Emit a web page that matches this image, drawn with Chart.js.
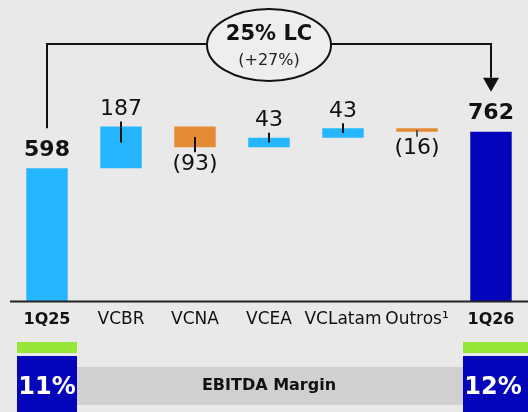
<!DOCTYPE html>
<html>
<head>
<meta charset="utf-8">
<script src="https://cdn.jsdelivr.net/npm/chart.js@4/dist/chart.umd.min.js"></script>
<style>
  html, body { margin: 0; padding: 0; background: #e9e9e9; }
  #wrap { width: 528px; height: 412px; }
</style>
</head>
<body>
<div id="wrap"><canvas id="c" width="528" height="412"></canvas></div>
<script>
// categories and values
const categories = ['1Q25', 'VCBR', 'VCNA', 'VCEA', 'VCLatam', 'Outros¹', '1Q26'];
const changes = [598, 187, -93, 43, 43, -16, 762]; // first and last are totals
const valueLabels = ['598', '187', '(93)', '43', '43', '(16)', '762'];
const marginLabels = ['11%', '12%'];
const growthTitle = '25% LC';
const growthSub = '(+27%)';
const marginTitle = 'EBITDA Margin';

const LIGHT = '#26b6ff', ORANGE = '#e58a35', DARK = '#0404ba', GREEN = '#98e63a';
const FONT = '"DejaVu Sans", sans-serif';

// build floating ranges
let run = 0;
const ranges = changes.map((v, i) => {
  if (i === 0 || i === changes.length - 1) { run = v; return [0, v]; }
  const r = [run, run + v];
  run += v;
  return r;
});
const colors = changes.map((v, i) => {
  if (i === changes.length - 1) return DARK;
  return v < 0 ? ORANGE : LIGHT;
});

const overlay = {
  id: 'overlay',
  afterDatasetsDraw(chart) {
    const ctx = chart.ctx;
    const x = chart.scales.x, y = chart.scales.y;
    const area = chart.chartArea;
    const last = categories.length - 1;
    ctx.save();

    // baseline
    const y0 = y.getPixelForValue(0);
    ctx.strokeStyle = '#222';
    ctx.lineWidth = 2;
    ctx.beginPath();
    ctx.moveTo(area.left, y0 + 0.5);
    ctx.lineTo(528, y0 + 0.5);
    ctx.stroke();

    // value labels and small connectors
    ctx.textAlign = 'center';
    ctx.textBaseline = 'middle';
    ranges.forEach((r, i) => {
      const cx = x.getPixelForValue(i);
      const top = y.getPixelForValue(Math.max(r[0], r[1]));
      const bot = y.getPixelForValue(Math.min(r[0], r[1]));
      const h = bot - top;
      const total = i === 0 || i === last;
      ctx.fillStyle = '#111';
      if (total) {
        ctx.font = 'bold 22px ' + FONT;
        ctx.fillText(valueLabels[i], cx, top - 18);
        return;
      }
      ctx.font = '22px ' + FONT;
      ctx.strokeStyle = changes[i] < 0 && Math.abs(changes[i]) < 20 ? '#555' : '#111';
      ctx.lineWidth = 2;
      ctx.beginPath();
      if (changes[i] >= 0) {
        ctx.fillText(valueLabels[i], cx, top - 17);
        ctx.moveTo(cx, top - 5);
        ctx.lineTo(cx, top + Math.min(h / 2, 16));
      } else {
        ctx.fillText(valueLabels[i], cx, bot + 17);
        ctx.moveTo(cx, bot - h / 2);
        ctx.lineTo(cx, bot + 5);
      }
      ctx.stroke();
    });

    // growth bracket
    const lx = x.getPixelForValue(0), rx = x.getPixelForValue(last);
    const ly = y.getPixelForValue(changes[0]) - 40;
    const ry = y.getPixelForValue(changes[last]) - 40;
    const by = area.top + 44;
    const mx = (lx + rx) / 2;
    ctx.strokeStyle = '#111';
    ctx.lineWidth = 2;
    ctx.beginPath();
    ctx.moveTo(lx, ly);
    ctx.lineTo(lx, by);
    ctx.lineTo(rx, by);
    ctx.lineTo(rx, ry - 14);
    ctx.stroke();
    ctx.fillStyle = '#111';
    ctx.beginPath();
    ctx.moveTo(rx - 8, ry - 14);
    ctx.lineTo(rx + 8, ry - 14);
    ctx.lineTo(rx, ry);
    ctx.closePath();
    ctx.fill();

    ctx.beginPath();
    ctx.ellipse(mx, by + 1, 62, 36, 0, 0, Math.PI * 2);
    ctx.fillStyle = '#eeeeee';
    ctx.fill();
    ctx.stroke();
    ctx.fillStyle = '#111';
    ctx.font = 'bold 21px ' + FONT;
    ctx.fillText(growthTitle, mx, by - 9);
    ctx.font = '16px ' + FONT;
    ctx.fillStyle = '#222';
    ctx.fillText(growthSub, mx, by + 17);

    // category labels
    categories.forEach((c, i) => {
      const total = i === 0 || i === last;
      ctx.font = (total ? 'bold 16px ' : '17px ') + FONT;
      ctx.fillStyle = '#111';
      ctx.fillText(c, x.getPixelForValue(i), y0 + 19);
    });

    // margin panel
    const bandTop = y0 + 66, bandH = 38;
    const boxL = lx - 30, boxR = rx - 28;
    ctx.fillStyle = '#d0d0d0';
    ctx.fillRect(boxL + 60, bandTop, boxR - boxL - 60, bandH);
    ctx.fillStyle = '#111';
    ctx.font = 'bold 16px ' + FONT;
    ctx.fillText(marginTitle, mx, bandTop + bandH / 2);

    [[boxL, 60], [boxR, 528 - boxR]].forEach((b, k) => {
      ctx.fillStyle = GREEN;
      ctx.fillRect(b[0], y0 + 41, b[1], 11);
      ctx.fillStyle = DARK;
      ctx.fillRect(b[0], y0 + 55, b[1], 412 - (y0 + 55));
      ctx.fillStyle = '#fff';
      ctx.font = 'bold 24px ' + FONT;
      ctx.fillText(marginLabels[k], b[0] + 30, y0 + 87);
    });

    ctx.restore();
  }
};

new Chart(document.getElementById('c').getContext('2d'), {
  type: 'bar',
  data: {
    labels: categories,
    datasets: [{
      data: ranges,
      backgroundColor: colors,
      borderWidth: 0,
      barPercentage: 0.56,
      categoryPercentage: 1
    }]
  },
  options: {
    responsive: false,
    animation: false,
    devicePixelRatio: 1,
    layout: { padding: { left: 10, right: 0, top: 0, bottom: 111 } },
    plugins: { legend: { display: false }, tooltip: { enabled: false } },
    scales: {
      x: { display: false },
      y: { display: false, min: 0, max: 1355 }
    }
  },
  plugins: [overlay]
});
</script>
</body>
</html>
